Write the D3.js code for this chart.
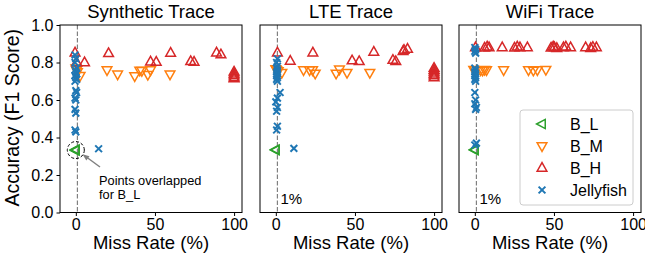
<!DOCTYPE html>
<html>
<head>
<meta charset="utf-8">
<script src="https://cdn.jsdelivr.net/npm/d3@7"></script>
<style>
  body { margin: 0; background: #fff; }
  text { font-family: 'Liberation Sans', Arial, sans-serif; }
</style>
</head>
<body>
<script>
const panelTitles = ['Synthetic Trace', 'LTE Trace', 'WiFi Trace'];
const seriesNames = ['B_L', 'B_M', 'B_H', 'Jellyfish'];
const xTicks = [0, 50, 100];
const yTicks = [0, 0.2, 0.4, 0.6, 0.8, 1.0];

// Synthetic trace
const synBLx = [0, 0, 0];
const synBLy = [0.333, 0.335, 0.331];
const synBMx = [0, 0.5, 1, 2.7, 19.7, 26.4, 37.2, 40.4, 41.7, 45.5, 47.2, 59.5];
const synBMy = [0.77, 0.76, 0.75, 0.73, 0.76, 0.737, 0.728, 0.758, 0.756, 0.735, 0.76, 0.737];
const synBHx = [-0.5, 0.5, 5.5, 20.7, 47.2, 50.8, 59.9, 72.6, 74.7, 88.9, 91.7, 100, 100, 100, 100, 100];
const synBHy = [0.852, 0.80, 0.80, 0.849, 0.804, 0.803, 0.851, 0.806, 0.803, 0.852, 0.842, 0.75, 0.74, 0.73, 0.72, 0.715];
const synJFx = [-0.5, 0, -0.5, 0.5, -0.5, 0, 0.5, -0.5, 0, 0.5, -0.5, 0, 0.5, -0.5, 0, -0.5, 0, -0.5, 0, 14.4];
const synJFy = [0.84, 0.82, 0.80, 0.77, 0.76, 0.75, 0.74, 0.73, 0.72, 0.71, 0.70, 0.65, 0.64, 0.61, 0.60, 0.55, 0.53, 0.44, 0.43, 0.34];

// LTE trace
const lteBLx = [0, 0];
const lteBLy = [0.333, 0.335];
const lteBMx = [0, 0.5, 1.5, 3.8, 17.5, 21.3, 23.2, 24.9, 38.1, 40.2, 45, 59.4];
const lteBMy = [0.765, 0.76, 0.755, 0.746, 0.76, 0.76, 0.76, 0.742, 0.742, 0.764, 0.746, 0.746];
const lteBHx = [1, 9.1, 23.4, 48.2, 52.7, 61.9, 74, 75.8, 80.4, 81, 83.2, 100, 100, 100, 100, 100, 100];
const lteBHy = [0.852, 0.808, 0.852, 0.81, 0.806, 0.856, 0.813, 0.806, 0.86, 0.866, 0.872, 0.77, 0.76, 0.75, 0.74, 0.73, 0.72];
const lteJFx = [1, 0.5, 1, 0.5, 1, 0.5, 1, 0.5, 1, 0.5, 1, 2.7, 1, 0, 1, 0.5, 1, 0.5, 11.4];
const lteJFy = [0.82, 0.80, 0.78, 0.77, 0.76, 0.75, 0.74, 0.73, 0.72, 0.71, 0.70, 0.64, 0.61, 0.59, 0.56, 0.54, 0.46, 0.44, 0.342];

// WiFi trace
const wifiBLx = [0, 0];
const wifiBLy = [0.333, 0.335];
const wifiBMx = [-0.7, 0, 3.6, 4.9, 6.2, 7.4, 18.2, 33.9, 37, 39.5, 44.9];
const wifiBMy = [0.762, 0.76, 0.76, 0.758, 0.762, 0.76, 0.76, 0.76, 0.758, 0.76, 0.762];
const wifiBHx = [0.4, 6.2, 7.8, 9, 17.3, 25.1, 26.8, 28.5, 33.2, 48.2, 49.5, 50.3, 51.8, 56, 57.5, 60.5, 70, 73.2, 74.6, 76.8];
const wifiBHy = [0.88, 0.878, 0.884, 0.88, 0.88, 0.878, 0.884, 0.88, 0.88, 0.878, 0.884, 0.88, 0.876, 0.88, 0.884, 0.88, 0.88, 0.876, 0.882, 0.88];
const wifiJFx = [0, 0.5, 0, 0.5, 0, 0.5, 0, 0.5, 0, 0.5, 0, 0.5, 0, 0.5, 0, 1, 0.5, 1, 0];
const wifiJFy = [0.88, 0.87, 0.86, 0.85, 0.77, 0.76, 0.75, 0.74, 0.73, 0.72, 0.71, 0.70, 0.64, 0.60, 0.58, 0.56, 0.55, 0.37, 0.36];

const zip = (xs, ys) => xs.map((x, i) => ({ x, y: ys[i] }));
const panels = [
  { title: panelTitles[0], series: [zip(synBLx, synBLy), zip(synBMx, synBMy), zip(synBHx, synBHy), zip(synJFx, synJFy)] },
  { title: panelTitles[1], series: [zip(lteBLx, lteBLy), zip(lteBMx, lteBMy), zip(lteBHx, lteBHy), zip(lteJFx, lteJFy)] },
  { title: panelTitles[2], series: [zip(wifiBLx, wifiBLy), zip(wifiBMx, wifiBMy), zip(wifiBHx, wifiBHy), zip(wifiJFx, wifiJFy)] },
];

const colors = ['#2ca02c', '#ff7f0e', '#d62728', '#1f77b4'];
const panelLefts = [60, 260, 459];
const panelWidth = 182;
const plotTop = 25;
const plotBottom = 212.5;

const svg = d3.select('body')
  .append('svg')
  .attr('width', 645)
  .attr('height', 264);

const yScale = d3.scaleLinear()
  .domain([0, 1])
  .range([plotBottom, plotTop]);

// marker paths, centered at 0,0
const triSize = 5.4;
const markerPath = (k) => {
  const s = triSize;
  if (k === 0) return `M${-s},0L${s * 0.6},${-s * 0.85}L${s * 0.6},${s * 0.85}Z`;
  if (k === 1) return `M0,${s}L${-s * 0.9},${-s * 0.6}L${s * 0.9},${-s * 0.6}Z`;
  if (k === 2) return `M0,${-s}L${-s * 0.9},${s * 0.6}L${s * 0.9},${s * 0.6}Z`;
  const c = 3.4;
  return `M${-c},${-c}L${c},${c}M${-c},${c}L${c},${-c}`;
};

panels.forEach((p, pi) => {
  const left = panelLefts[pi];
  const xScale = d3.scaleLinear()
    .domain([-10, 105])
    .range([left, left + panelWidth]);

  const g = svg.append('g');

  // 1% reference line
  g.append('line')
    .attr('x1', xScale(1)).attr('x2', xScale(1))
    .attr('y1', plotTop).attr('y2', plotBottom)
    .style('stroke', '#808080')
    .style('stroke-width', 1.2)
    .style('stroke-dasharray', '4.5,2');

  if (pi > 0) {
    g.append('text')
      .attr('x', xScale(1) + 3)
      .attr('y', plotBottom - 8.5)
      .style('font-size', '15px')
      .text('1%');
  }

  p.series.forEach((pts, k) => {
    g.append('g')
      .selectAll('path')
      .data(pts)
      .join('path')
      .attr('transform', d => `translate(${xScale(d.x)},${yScale(d.y)})`)
      .attr('d', markerPath(k))
      .style('fill', 'none')
      .style('stroke', colors[k])
      .style('stroke-width', k === 3 ? 2 : 1.5);
  });

  const xAxis = d3.axisBottom(xScale)
    .tickValues(xTicks)
    .tickSize(3.5)
    .tickSizeOuter(0)
    .tickPadding(3);

  const ax = g.append('g')
    .attr('transform', `translate(0,${plotBottom})`)
    .call(xAxis);
  ax.select('.domain').remove();
  ax.selectAll('text').style('font-size', '16px').attr('fill', '#000');
  ax.selectAll('line').attr('stroke', '#000');

  if (pi === 0) {
    const yAxis = d3.axisLeft(yScale)
      .tickValues(yTicks)
      .tickFormat(d3.format('.1f'))
      .tickSize(3.5)
      .tickPadding(3);
    const ay = g.append('g')
      .attr('transform', `translate(${left},0)`)
      .call(yAxis);
    ay.select('.domain').remove();
    ay.selectAll('text').style('font-size', '16px').attr('fill', '#000');
    ay.selectAll('line').attr('stroke', '#000');
  }

  g.append('rect')
    .attr('x', left).attr('y', plotTop)
    .attr('width', panelWidth).attr('height', plotBottom - plotTop)
    .style('fill', 'none')
    .style('stroke', '#000')
    .style('stroke-width', 1);

  g.append('text')
    .attr('x', left + panelWidth / 2)
    .attr('y', 18)
    .attr('text-anchor', 'middle')
    .style('font-size', '18.5px')
    .text(p.title);

  g.append('text')
    .attr('x', left + panelWidth / 2)
    .attr('y', 249)
    .attr('text-anchor', 'middle')
    .style('font-size', '18.5px')
    .text('Miss Rate (%)');

  if (pi === 0) {
    // annotation for overlapped B_L points
    g.append('circle')
      .attr('cx', xScale(0))
      .attr('cy', yScale(0.333))
      .attr('r', 8.5)
      .style('fill', 'none')
      .style('stroke', '#000')
      .style('stroke-width', 1)
      .style('stroke-dasharray', '3,2');
    g.append('line')
      .attr('x1', 100).attr('y1', 167)
      .attr('x2', 85).attr('y2', 156)
      .style('stroke', '#808080')
      .style('stroke-width', 1.5);
    g.append('path')
      .attr('d', 'M82.5,154.2L89.5,156.3L86.3,160.6Z')
      .style('fill', '#808080');
    g.append('text')
      .attr('x', 99).attr('y', 184.5)
      .style('font-size', '12.8px')
      .text('Points overlapped');
    g.append('text')
      .attr('x', 99).attr('y', 199)
      .style('font-size', '12.8px')
      .text('for B_L');
  }
});

svg.append('text')
  .attr('transform', `translate(19,${(plotTop + plotBottom) / 2 - 1}) rotate(-90)`)
  .attr('text-anchor', 'middle')
  .style('font-size', '19.5px')
  .text('Accuracy (F1 Score)');

// legend in the WiFi panel
const legend = svg.append('g');
legend.append('rect')
  .attr('x', 520).attr('y', 110)
  .attr('width', 113).attr('height', 95)
  .attr('rx', 3)
  .style('fill', '#fff')
  .style('fill-opacity', 0.8)
  .style('stroke', '#ccc')
  .style('stroke-width', 1);

seriesNames.forEach((name, k) => {
  const ly = 124 + k * 22;
  legend.append('path')
    .attr('transform', `translate(542,${ly})`)
    .attr('d', markerPath(k))
    .style('fill', 'none')
    .style('stroke', colors[k])
    .style('stroke-width', k === 3 ? 2 : 1.5);
  legend.append('text')
    .attr('x', 570)
    .attr('y', ly + 5.5)
    .style('font-size', '16px')
    .text(name);
});
</script>
</body>
</html>
